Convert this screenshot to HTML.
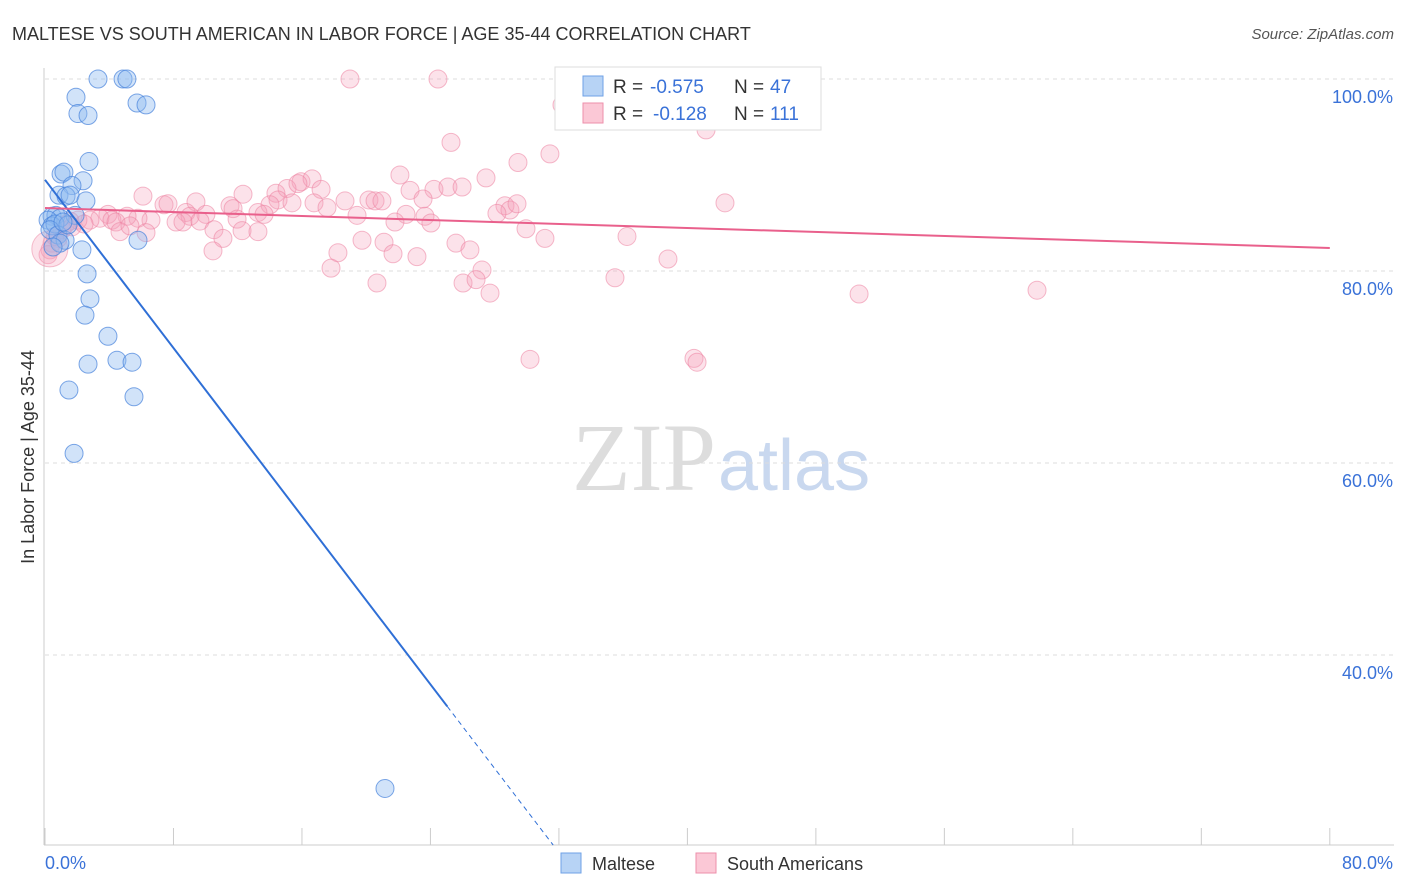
<!DOCTYPE html>
<html><head><meta charset="utf-8"><style>
body{margin:0;background:#fff;width:1406px;height:892px;overflow:hidden;font-family:"Liberation Sans",sans-serif}
svg{position:absolute;left:0;top:0}
</style></head><body>
<svg id="c" width="1406" height="892">
<text x="12" y="40" font-size="18" fill="#333">MALTESE VS SOUTH AMERICAN IN LABOR FORCE | AGE 35-44 CORRELATION CHART</text>
<text x="1394" y="39" font-size="15" fill="#555" font-style="italic" text-anchor="end">Source: ZipAtlas.com</text>
<text x="716" y="490" font-size="96" fill="#ddd" text-anchor="end" font-family="Liberation Serif">ZIP</text>
<text x="718" y="490" font-size="72" fill="#c9d8ef">atlas</text>
<text transform="translate(34,457) rotate(-90)" font-size="18" fill="#333" text-anchor="middle">In Labor Force | Age 35-44</text>
<g id="grid"></g><g id="pts"></g><g id="lines"></g>
<g>
<rect x="555" y="67" width="266" height="63" fill="#fff" stroke="#ddd"/>
<rect x="583" y="76" width="20" height="20" fill="#b7d3f5" stroke="#6fa1e6"/>
<rect x="583" y="103" width="20" height="20" fill="#fbc8d6" stroke="#ee8fab"/>
<text x="613" y="93" font-size="19" fill="#333">R =</text>
<text x="650" y="93" font-size="19" fill="#3a72d8">-0.575</text>
<text x="734" y="93" font-size="19" fill="#333">N =</text>
<text x="770" y="93" font-size="19" fill="#3a72d8">47</text>
<text x="613" y="120" font-size="19" fill="#333">R =</text>
<text x="653" y="120" font-size="19" fill="#3a72d8">-0.128</text>
<text x="734" y="120" font-size="19" fill="#333">N =</text>
<text x="770" y="120" font-size="19" fill="#3a72d8">111</text>
</g>
<g>
<rect x="561" y="853" width="20" height="20" fill="#b7d3f5" stroke="#6fa1e6"/>
<text x="592" y="870" font-size="18" fill="#333">Maltese</text>
<rect x="696" y="853" width="20" height="20" fill="#fbc8d6" stroke="#ee8fab"/>
<text x="727" y="870" font-size="18" fill="#333">South Americans</text>
</g>
</svg>
<script>
const blueX=[3.3,4.86,5.1,1.93,2.05,2.68,5.73,6.29,2.74,1.0,1.18,2.37,1.68,0.87,1.31,1.56,2.55,0.44,0.68,0.93,0.19,0.44,0.62,0.31,0.81,1.25,0.93,2.3,0.5,5.79,2.62,2.8,2.49,3.92,2.68,4.48,5.42,1.49,5.54,1.81,21.17,1.87,1.43,1.12];
const blueY=[100,100,100,98.1,96.4,96.2,97.5,97.3,91.4,90.1,90.3,89.4,88.9,87.9,87.8,87.9,87.3,85.7,85.8,85.5,85.3,84.7,84.9,84.3,83.75,83.2,82.9,82.2,82.5,83.2,79.7,77.1,75.4,73.2,70.3,70.7,70.5,67.6,66.9,61.0,26.1,85.8,84.8,85.1];
const pinkX=[18.99,24.47,32.57,32.19,41.16,25.28,29.45,31.44,22.1,27.46,12.33,6.1,14.38,15.94,16.63,17.19,22.73,24.22,25.09,25.97,15.07,15.75,14.51,14.01,15.38,16.75,17.56,18.68,20.17,20.55,20.98,23.54,28.64,28.95,29.39,28.14,42.34,7.41,7.66,9.4,11.52,11.71,11.96,13.26,13.64,10.02,8.78,9.03,8.16,8.59,9.65,6.6,5.79,5.11,3.92,3.42,4.17,4.42,2.8,2.05,1.56,4.67,5.29,6.29,10.52,11.08,12.27,13.26,19.43,22.48,23.66,24.03,21.79,25.59,26.46,29.95,31.13,36.24,19.74,21.11,21.67,23.16,18.24,17.81,27.21,26.03,26.84,27.71,20.67,35.49,38.79,50.69,61.77,30.2,40.41,40.6,10.46,1.06,0.81,0.44,0.31,0.19,1.25,1.68,2.43,0.62];
const pinkY=[100,100,100,97.3,94.7,93.4,91.3,92.2,90.0,89.7,88.0,87.8,88.1,89.3,89.6,88.5,88.4,88.5,88.75,88.75,88.6,89.1,87.4,86.9,87.1,87.1,86.6,87.3,87.4,87.3,87.3,87.5,86.8,86.35,87.0,86.0,87.1,86.9,87.0,87.2,86.8,86.5,85.4,86.1,85.9,85.9,86.1,85.7,85.1,85.1,85.2,85.3,85.5,85.7,85.9,85.5,85.3,85.1,85.3,85.3,85.2,84.1,84.7,84.0,84.3,83.4,84.2,84.1,85.8,85.9,85.7,85.0,85.1,82.9,82.2,84.4,83.4,83.6,83.2,83.0,81.8,81.5,81.9,80.3,80.1,78.75,79.1,77.7,78.75,79.3,81.25,77.6,78.0,70.8,70.9,70.5,82.1,84.3,83.4,82.9,82.2,81.7,84.8,84.6,84.9,83.6];
const yTicks=[100,80,60,40];
const yTickLabels=["100.0%","80.0%","60.0%","40.0%"];
const blueTrend=[89.5,-2.19];
const pinkTrend=[86.56,-0.052];
const NS='http://www.w3.org/2000/svg';
const sx=v=>45+v*16.06, sy=v=>79+(100-v)*9.6;
function mk(t,a,p){const e=document.createElementNS(NS,t);for(const k in a)e.setAttribute(k,a[k]);p.appendChild(e);return e;}
const grid=document.getElementById('grid');
mk('line',{x1:44,y1:68,x2:44,y2:845,stroke:'#ccc'},grid);
mk('line',{x1:44,y1:845,x2:1394,y2:845,stroke:'#ccc'},grid);
yTicks.forEach((t,i)=>{
 const l=mk('line',{x1:45,x2:1394,y1:sy(t),y2:sy(t),stroke:'#ddd','stroke-dasharray':'4,4'},grid);
 
 
 const tx=mk('text',{x:1393,y:sy(t)+24,'font-size':18,fill:'#3a72d8','text-anchor':'end'},grid);
 tx.textContent=yTickLabels[i];
 
 
});
for(let i=0;i<=10;i++){const x=sx(i*8);const l=mk('line',{x1:x,x2:x,y1:828,y2:845,stroke:'#ccc'},grid);
 
 }
const a=mk('text',{x:45,y:869,'font-size':18,fill:'#3a72d8'},grid);a.textContent='0.0%';


const b=mk('text',{x:1393,y:869,'font-size':18,fill:'#3a72d8','text-anchor':'end'},grid);b.textContent='80.0%';


const pts=document.getElementById('pts');
pinkX.forEach((v,i)=>{const c=mk('circle',{cx:sx(v),cy:sy(pinkY[i]),r:9,fill:'rgba(246,160,186,0.3)',stroke:'rgba(236,130,160,0.55)','stroke-width':1},pts);
 
 });
const big=mk('circle',{cx:sx(0.3),cy:sy(82.3),r:18,fill:'rgba(246,160,186,0.3)',stroke:'rgba(236,130,160,0.5)'},pts);


blueX.forEach((v,i)=>{const c=mk('circle',{cx:sx(v),cy:sy(blueY[i]),r:9,fill:'rgba(140,185,240,0.4)',stroke:'rgba(70,130,220,0.7)','stroke-width':1},pts);
 
 });
const lines=document.getElementById('lines');
const bf=x=>blueTrend[0]+blueTrend[1]*x, pf=x=>pinkTrend[0]+pinkTrend[1]*x;
let l1=mk('line',{x1:sx(0),y1:sy(bf(0)),x2:sx(25.05),y2:sy(bf(25.05)),stroke:'#2f6fd6','stroke-width':2},lines);


const xEnd=(20.2-blueTrend[0])/blueTrend[1];
let l2=mk('line',{x1:sx(25.05),y1:sy(bf(25.05)),x2:sx(xEnd),y2:sy(20.2),stroke:'#2f6fd6','stroke-width':1,'stroke-dasharray':'5,4'},lines);


let l3=mk('line',{x1:sx(0),y1:sy(pf(0)),x2:sx(80),y2:sy(pf(80)),stroke:'#e9608c','stroke-width':2},lines);


</script>
</body></html>
